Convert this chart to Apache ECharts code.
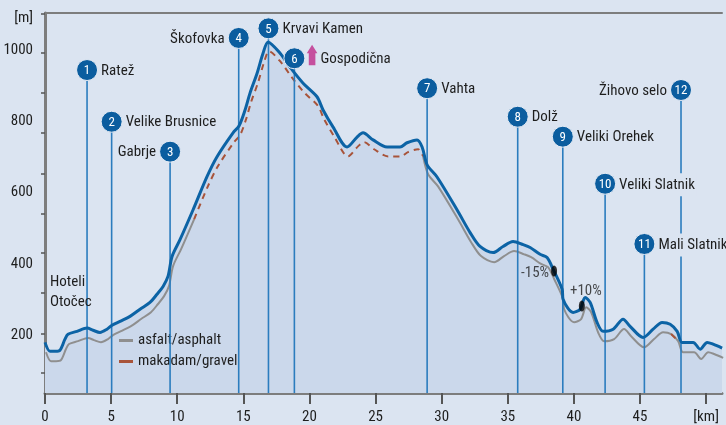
<!DOCTYPE html>
<html>
<head>
<meta charset="utf-8">
<script src="https://cdn.jsdelivr.net/npm/echarts@6/dist/echarts.min.js"></script>
<style>
  html, body { margin: 0; padding: 0; background: #dbe4f1; }
  #chart { width: 726px; height: 425px; }
</style>
</head>
<body>
<div id="chart"></div>
<script>
// elevation profile (km, m)
const profileKm = [0.0, 0.38, 0.76, 1.13, 1.51, 1.74, 2.42, 3.18, 3.63, 4.16, 4.69, 5.07, 5.67, 6.43, 7.19, 7.94,
  8.47, 8.93, 9.30, 9.61, 10.21, 11.20, 12.25, 13.01, 14.22, 14.67, 15.13, 15.51, 16.04, 16.49, 16.87,
  17.78, 18.53, 19.52, 20.57, 21.03, 21.79, 22.84, 23.60, 24.05, 24.81, 25.87, 26.85, 27.38, 28.14, 28.52,
  28.90, 29.65, 31.16, 32.15, 32.90, 33.89, 34.64, 35.40, 36.16, 36.69, 37.44, 37.97, 38.43, 39.11, 39.18,
  39.94, 40.47, 40.85, 41.23, 41.75, 42.21, 42.97, 43.72, 44.25, 45.23, 45.99, 46.67, 47.28, 47.81, 48.18,
  49.02, 49.55, 50.08, 50.53, 51.21];
const profileElev = [180, 155, 155, 158, 189, 203, 211, 220, 214, 208, 217, 228, 239, 253, 273, 292,
  315, 337, 365, 421, 468, 552, 645, 701, 768, 787, 832, 880, 935, 991, 1022,
  991, 952, 907, 869, 832, 784, 728, 756, 768, 748, 728, 728, 740, 748, 728,
  678, 644, 552, 488, 449, 432, 449, 463, 454, 446, 427, 418, 385, 329, 301,
  264, 273, 306, 292, 236, 211, 217, 245, 225, 194, 217, 236, 231, 211, 180,
  180, 161, 180, 175, 164];

// stretches of gravel road (km)
const gravelRanges = [[11.1, 28.7], [47.4, 47.9]];

// numbered waypoints
const markerKm = [3.18, 5.04, 9.46, 14.65, 16.9, 18.86, 28.9, 35.75, 39.16, 42.36, 45.33, 48.1];
const markerElev = [944, 799, 715, 1034, 1061, 977, 893, 813, 757, 625, 456, 888];
const markerNames = ['Ratež', 'Velike Brusnice', 'Gabrje', 'Škofovka', 'Krvavi Kamen', 'Gospodična',
  'Vahta', 'Dolž', 'Veliki Orehek', 'Veliki Slatnik', 'Mali Slatnik', 'Žihovo selo'];
const markerSide = ['right', 'right', 'left', 'left', 'right', 'right', 'right', 'right', 'right', 'right', 'right', 'left'];

// steep grades
const gradeKm = [38.5, 40.6];
const gradeElev = [380, 282];
const gradeLabels = ['-15%', '+10%'];

// start label
const startKm = 0.38;
const startElev = 320;
const startLabel = 'Hoteli\nOtočec';

// axes
const xLabelValues = [0, 5, 10, 15, 20, 25, 30, 35, 40, 45, 50];
const yLabelValues = [200, 400, 600, 800, 1000, 1100];
const yTickValues = [94, 203, 319, 431, 541, 653, 768, 879, 992, 1103];
const xMin = 0, xMax = 51.2, yMin = 38, yMax = 1104;

const bg = '#dbe4f1';
const fill = '#cbd8eb';
const blue = '#0c63a5';
const pinLine = '#2b7cbe';
const pinFill = '#0b5d9f';
const axisGray = '#7d7d7d';
const ink = '#1e1e1e';
const font = "'Liberation Sans Narrow', 'Roboto Condensed', 'DejaVu Sans Condensed', sans-serif";

function isGravel(km) {
  return gravelRanges.some(r => km >= r[0] && km <= r[1]);
}
// road line split in asphalt / gravel parts, by segment midpoints
function roadData(gravel) {
  const n = profileKm.length;
  return profileKm.map((km, i) => {
    let hit = false;
    if (i > 0 && isGravel((profileKm[i - 1] + km) / 2) === gravel) hit = true;
    if (i < n - 1 && isGravel((km + profileKm[i + 1]) / 2) === gravel) hit = true;
    return [km, hit ? profileElev[i] : '-'];
  });
}

const profile = profileKm.map((k, i) => [k, profileElev[i]]);
const markers = markerKm.map((k, i) => [k, markerElev[i]]);

const chart = echarts.init(document.getElementById('chart'));
chart.setOption({
  backgroundColor: bg,
  animation: false,
  textStyle: { fontFamily: font },
  grid: [
    { left: 45, right: 4, top: 13, bottom: 31 },
    { left: 46, right: 3, top: 22, bottom: 22 }
  ],
  xAxis: [
    {
      type: 'value', gridIndex: 0, min: xMin, max: xMax,
      axisLine: { lineStyle: { color: axisGray, width: 3 } },
      axisTick: { customValues: xLabelValues, length: 11, lineStyle: { color: '#555', width: 2 } },
      axisLabel: {
        customValues: xLabelValues, margin: 17, color: ink, fontSize: 15, fontFamily: font,
        formatter: v => (v === 50 ? '[km]' : String(v))
      },
      splitLine: { show: false }
    },
    { type: 'value', gridIndex: 1, min: xMin, max: xMax, show: false },
    {
      type: 'value', gridIndex: 0, min: xMin, max: xMax, position: 'top',
      axisLine: { lineStyle: { color: axisGray, width: 2 } },
      axisTick: { show: false }, axisLabel: { show: false }, splitLine: { show: false }
    }
  ],
  yAxis: [
    {
      type: 'value', gridIndex: 0, min: yMin, max: yMax,
      axisLine: { show: true, lineStyle: { color: axisGray, width: 3 } },
      axisTick: { show: true, customValues: yTickValues, length: 4, lineStyle: { color: '#555', width: 1.5 } },
      axisLabel: {
        customValues: yLabelValues, margin: 12, color: ink, fontSize: 15, fontFamily: font,
        formatter: v => (v > 1050 ? '{m|[m]}' : String(v)),
        rich: { m: { fontSize: 15, fontFamily: font, color: ink, padding: [8, 0, 0, 0] } }
      },
      splitLine: { show: false }
    },
    { type: 'value', gridIndex: 1, min: yMin, max: yMax, show: false },
    {
      type: 'value', gridIndex: 0, min: yMin, max: yMax, position: 'right',
      axisLine: { show: true, lineStyle: { color: axisGray, width: 2 } },
      axisTick: { show: false }, axisLabel: { show: false }, splitLine: { show: false }
    }
  ],
  legend: {
    orient: 'vertical', left: 113, top: 326,
    padding: [7, 6, 7, 6], itemGap: 6,
    backgroundColor: fill,
    icon: 'rect', itemWidth: 14, itemHeight: 3,
    textStyle: { color: ink, fontSize: 15, fontFamily: font },
    data: ['asfalt/asphalt', 'makadam/gravel']
  },
  series: [
    {
      name: 'profil', type: 'line', xAxisIndex: 0, yAxisIndex: 0,
      data: profile, symbol: 'none', smooth: 0.3, z: 3,
      lineStyle: { color: 'transparent', width: 0 },
      areaStyle: { color: fill, origin: 'start', opacity: 1 }
    },
    {
      name: 'asfalt/asphalt', type: 'line', xAxisIndex: 1, yAxisIndex: 1,
      data: roadData(false), symbol: 'none', smooth: 0.3, z: 4,
      itemStyle: { color: '#8f8f8f' },
      lineStyle: { color: '#8f8f8f', width: 2 }
    },
    {
      name: 'makadam/gravel', type: 'line', xAxisIndex: 1, yAxisIndex: 1,
      data: roadData(true), symbol: 'none', smooth: 0.3, z: 4,
      itemStyle: { color: '#a8543a' },
      lineStyle: { color: '#a8543a', width: 2, type: [6, 5] }
    },
    {
      name: 'pins', type: 'custom', xAxisIndex: 0, yAxisIndex: 0, z: 5,
      data: markers,
      renderItem: (params, api) => {
        const top = api.coord([api.value(0), api.value(1)]);
        const bottom = api.coord([api.value(0), yMin]);
        return {
          type: 'line',
          shape: { x1: top[0], y1: top[1], x2: bottom[0], y2: bottom[1] },
          style: { stroke: pinLine, lineWidth: 1.6 }
        };
      }
    },
    {
      name: 'trasa', type: 'line', xAxisIndex: 0, yAxisIndex: 0,
      data: profile, symbol: 'none', smooth: 0.3, z: 6,
      lineStyle: { color: blue, width: 3 }
    },
    {
      name: 'heads', type: 'custom', xAxisIndex: 0, yAxisIndex: 0, z: 8,
      data: markers,
      renderItem: (params, api) => {
        const i = params.dataIndex;
        const c = api.coord([api.value(0), api.value(1)]);
        const left = markerSide[i] === 'left';
        const shift = i === 5 ? 25 : 13;
        const children = [
          { type: 'circle', shape: { cx: c[0], cy: c[1], r: 10.5 },
            style: { fill: pinFill, stroke: '#e4ebf5', lineWidth: 1 } },
          { type: 'text', style: {
              text: String(i + 1), x: c[0], y: c[1] + 1, fill: '#fff',
              font: '13px ' + font, align: 'center', verticalAlign: 'middle' } },
          { type: 'text', style: {
              text: markerNames[i], x: left ? c[0] - shift : c[0] + shift, y: c[1] + 1,
              align: left ? 'right' : 'left', verticalAlign: 'middle',
              fill: ink, font: '15px ' + font,
              backgroundColor: bg, padding: [4, 1, 4, 1] } }
        ];
        if (i === 5) {
          // small church sign in front of Gospodična
          children.push({ type: 'polygon', shape: { points: [
            [c[0] + 17.7, c[1] - 13.5], [c[0] + 23, c[1] - 5], [c[0] + 21, c[1] - 5],
            [c[0] + 21, c[1] + 7], [c[0] + 14.4, c[1] + 7], [c[0] + 14.4, c[1] - 5], [c[0] + 12.4, c[1] - 5]
          ] }, style: { fill: '#c5509e' } });
        }
        return { type: 'group', children };
      }
    },
    {
      name: 'grades', type: 'scatter', xAxisIndex: 0, yAxisIndex: 0, z: 9,
      symbol: 'circle', symbolSize: [6, 11],
      itemStyle: { color: '#000' },
      data: gradeKm.map((k, i) => ({
        value: [k, gradeElev[i]],
        label: {
          show: true, formatter: gradeLabels[i], color: ink, fontSize: 15, fontFamily: font,
          position: i === 0 ? 'left' : 'top', distance: 2, offset: i === 0 ? [0, 2] : [4, 0]
        }
      }))
    },
    {
      name: 'start', type: 'custom', xAxisIndex: 0, yAxisIndex: 0, z: 9,
      data: [[startKm, startElev]],
      renderItem: (params, api) => {
        const p = api.coord([api.value(0), api.value(1)]);
        return {
          type: 'text',
          style: {
            text: startLabel, x: p[0], y: p[1], align: 'left', verticalAlign: 'middle',
            fill: ink, font: '15px ' + font, lineHeight: 20
          }
        };
      }
    }
  ]
});
</script>
</body>
</html>
